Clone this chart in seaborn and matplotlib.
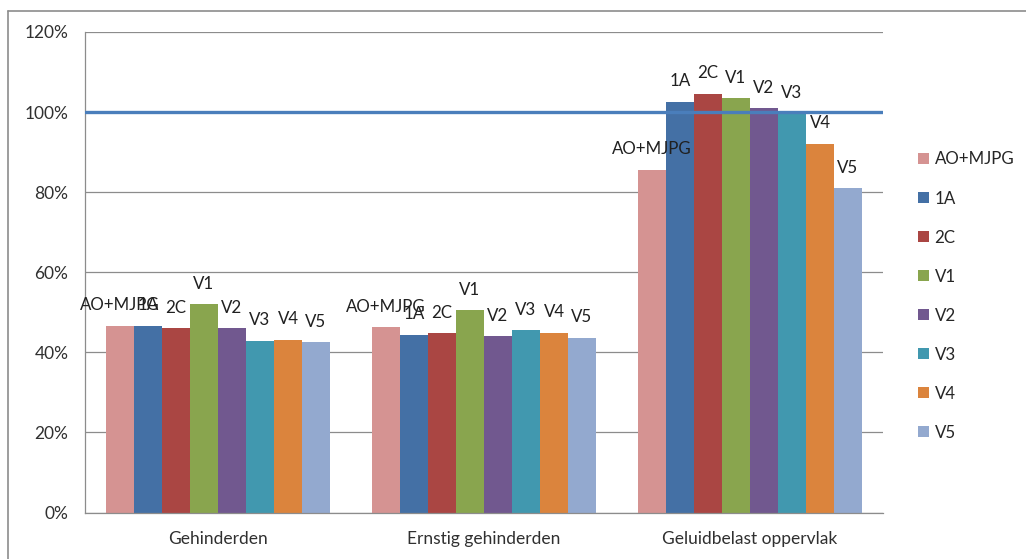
import matplotlib
matplotlib.use("Agg")
import matplotlib.pyplot as plt
import seaborn as sns
import pandas as pd
from matplotlib.lines import Line2D
from matplotlib.patches import Patch
from matplotlib.ticker import FuncFormatter

# Categories along the x axis
categories = ["Gehinderden", "Ernstig gehinderden", "Geluidbelast oppervlak"]
# Scenario series
series = ["AO+MJPG", "1A", "2C", "V1", "V2", "V3", "V4", "V5"]
colors = ["#D59392", "#4470A5", "#AA4643", "#89A54E", "#71588F", "#4198AF", "#DB843D", "#93A9CF"]

# Relative values per scenario (fraction of reference = 1.0)
gehinderden = [0.467, 0.467, 0.460, 0.521, 0.460, 0.429, 0.432, 0.426]
ernstig_gehinderden = [0.463, 0.444, 0.448, 0.506, 0.441, 0.456, 0.449, 0.437]
geluidbelast_oppervlak = [0.856, 1.026, 1.046, 1.034, 1.010, 0.998, 0.921, 0.810]

reference_level = 1.0
y_ticks = [0.0, 0.2, 0.4, 0.6, 0.8, 1.0, 1.2]

rows = []
for cat, vals in zip(categories, [gehinderden, ernstig_gehinderden, geluidbelast_oppervlak]):
    for s, v in zip(series, vals):
        rows.append({"categorie": cat, "scenario": s, "waarde": v})
df = pd.DataFrame(rows)

sns.set_theme(style="white")
plt.rcParams["font.family"] = ["Lato", "DejaVu Sans"]

fig = plt.figure(figsize=(10.26, 5.59), dpi=100)
ax = fig.add_axes([85 / 1026, 1 - 512.5 / 559, (883 - 85) / 1026, (512.5 - 32) / 559])

palette = dict(zip(series, colors))
sns.barplot(data=df, x="categorie", y="waarde", hue="scenario", order=categories,
            hue_order=series, palette=palette, width=0.842, gap=0, saturation=1,
            linewidth=0, legend=False, ax=ax)

ax.set_xlim(-0.5, 2.5)
ax.set_ylim(0, 1.2)
ax.set_yticks(y_ticks)
ax.yaxis.set_major_formatter(FuncFormatter(lambda v, _: f"{v * 100:.0f}%"))
ax.grid(axis="y", color="#8C8C8C", linewidth=0.9)
ax.set_axisbelow(True)
for side in ["top", "right"]:
    ax.spines[side].set_visible(False)
for side in ["left", "bottom"]:
    ax.spines[side].set_color("#8C8C8C")
    ax.spines[side].set_linewidth(0.9)
ax.tick_params(axis="both", length=0, labelsize=12.5, colors="#303030")
ax.tick_params(axis="y", pad=12)
ax.tick_params(axis="x", pad=13)
ax.set_xlabel("")
ax.set_ylabel("")

# Series-name labels above each bar
for container, name in zip(ax.containers, series):
    for bar in container:
        ax.annotate(name, (bar.get_x() + bar.get_width() / 2, bar.get_height()),
                    xytext=(0, 11), textcoords="offset points", ha="center",
                    va="baseline", fontsize=12.2, color="#202020")

# Reference line at 100%
ax.axhline(reference_level, color="#4A7EBB", linewidth=2.4, zorder=3)

# Legend
handles = [Patch(facecolor=c, edgecolor="none") for c in colors]
fig.legend(handles, series, loc="upper left", bbox_to_anchor=(910 / 1026, 1 - 143 / 559),
           frameon=False, fontsize=12.2, handlelength=0.65, handleheight=0.65,
           handletextpad=0.3, labelspacing=1.36, borderpad=0)

# Chart area border (top and left edges)
fig.add_artist(Line2D([8 / 1026, 1.0], [1 - 10.5 / 559, 1 - 10.5 / 559], color="#8C8C8C", linewidth=1.2))
fig.add_artist(Line2D([8 / 1026, 8 / 1026], [0.0, 1 - 10.5 / 559], color="#8C8C8C", linewidth=1.2))

fig.savefig("out.png", dpi=100)
